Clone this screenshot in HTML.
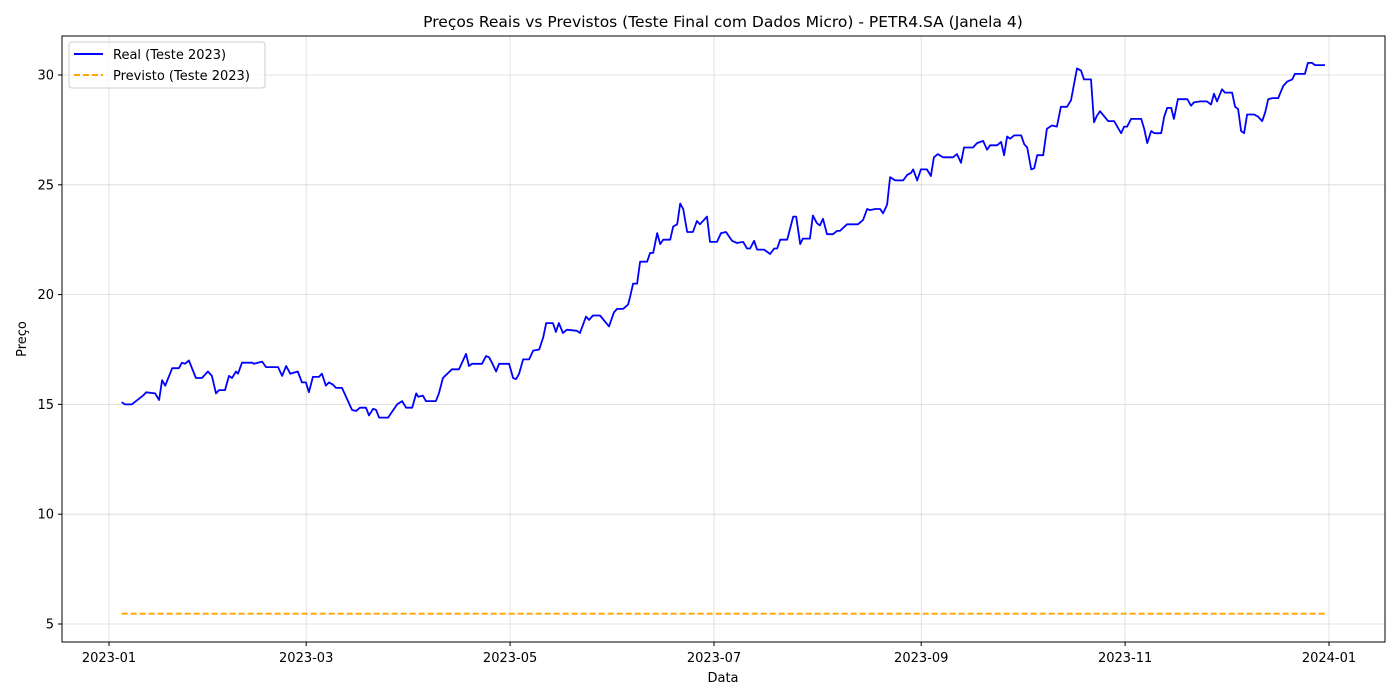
<!DOCTYPE html>
<html><head><meta charset="utf-8"><style>
body{margin:0;background:#fff;}
svg{display:block;font-family:"DejaVu Sans","Liberation Sans",sans-serif;}
</style></head><body>
<svg id="chart" width="1400" height="700" viewBox="0 0 1400 700" xmlns="http://www.w3.org/2000/svg">
<rect width="1400" height="700" fill="#fff"/>
<text x="723" y="27" font-size="15.5" text-anchor="middle" fill="#000">Preços Reais vs Previstos (Teste Final com Dados Micro) - PETR4.SA (Janela 4)</text>
<g id="grid"></g>
<g id="series"></g>
<rect x="62" y="36" width="1323" height="606" fill="none" stroke="#000" stroke-width="1"/>
<g id="ticks"></g>
<text x="723" y="682" font-size="13" text-anchor="middle">Data</text>
<text transform="translate(26,339) rotate(-90)" font-size="13" text-anchor="middle">Preço</text>
<g>
<rect x="69" y="42" width="196" height="46" rx="3" fill="#fff" fill-opacity="0.8" stroke="#ccc"/>
<line x1="74" y1="54" x2="103" y2="54" stroke="#0000ff" stroke-width="2"/>
<text x="113" y="59" font-size="13">Real (Teste 2023)</text>
<line x1="74" y1="75" x2="103" y2="75" stroke="#ffa500" stroke-width="2" stroke-dasharray="6,3"/>
<text x="113" y="80" font-size="13">Previsto (Teste 2023)</text>
</g>
</svg>
<script>
const realDays=[3.8,4.8,6.8,10.2,11.1,13.8,15.0,15.9,16.8,18.9,20.9,21.8,22.7,23.9,26.0,27.8,29.6,30.8,32.0,32.9,34.7,35.9,36.8,38.0,38.6,39.8,42.8,43.4,45.8,47.0,50.6,51.8,53.0,54.2,56.5,57.7,58.9,59.8,61.0,62.8,63.7,64.9,65.8,67.0,67.9,69.7,71.2,72.7,73.9,75.1,76.9,77.8,79.0,79.9,80.8,83.5,86.2,87.7,88.9,90.7,91.9,92.5,93.9,94.8,97.8,98.7,99.9,102.6,104.7,105.6,106.8,107.7,108.6,111.6,112.8,113.7,114.6,115.8,116.7,119.7,120.9,121.8,122.7,123.9,125.7,126.9,128.7,129.9,130.8,132.8,133.7,134.6,135.8,137.0,140.0,140.9,142.7,143.6,144.8,146.9,149.6,151.1,152.0,153.8,155.3,155.9,156.8,158.0,158.9,161.0,161.9,162.8,164.0,164.9,165.8,167.9,168.8,170.0,170.9,171.8,173.0,174.7,175.9,176.8,178.9,179.8,181.9,183.1,184.6,186.4,187.9,189.7,190.9,191.8,193.0,193.9,196.0,197.8,199.0,199.9,200.8,202.9,204.7,205.6,206.8,207.6,209.7,210.6,211.8,212.7,213.6,214.8,216.6,217.8,218.7,220.8,224.1,225.6,226.8,227.7,229.2,230.7,231.6,232.8,233.7,235.2,237.6,238.8,240.0,240.6,241.8,242.9,244.7,245.9,246.8,248.0,249.5,252.5,253.7,254.9,255.8,258.5,259.7,261.5,262.7,263.6,265.7,266.9,267.8,268.7,269.6,270.8,272.9,273.8,274.7,275.9,276.8,277.7,279.5,280.6,282.1,283.6,284.8,286.6,287.8,289.6,290.8,291.7,293.8,294.7,295.6,296.5,298.9,300.7,302.8,303.7,304.6,305.8,308.8,309.7,310.6,311.8,312.7,314.8,315.7,316.6,317.8,318.6,319.8,322.6,323.7,324.6,326.4,328.5,329.7,330.6,331.5,333.0,333.9,336.0,336.9,337.8,338.7,339.6,340.5,342.6,343.8,345.0,345.9,346.8,348.0,349.8,351.3,352.5,354.0,354.8,357.8,358.7,359.9,360.8,363.8];
const realPrices=[15.1,15.0,15.0,15.4,15.55,15.5,15.2,16.1,15.85,16.65,16.65,16.9,16.85,17.0,16.2,16.2,16.5,16.3,15.5,15.65,15.65,16.3,16.2,16.5,16.4,16.9,16.9,16.85,16.95,16.7,16.7,16.3,16.75,16.4,16.5,16.0,16.0,15.55,16.25,16.25,16.4,15.85,16.0,15.9,15.75,15.75,15.25,14.75,14.7,14.85,14.85,14.5,14.8,14.75,14.4,14.4,15.0,15.15,14.85,14.85,15.5,15.35,15.4,15.15,15.15,15.5,16.2,16.6,16.6,16.9,17.3,16.75,16.85,16.85,17.2,17.15,16.9,16.5,16.85,16.85,16.2,16.15,16.4,17.05,17.05,17.45,17.5,18.05,18.7,18.7,18.3,18.7,18.25,18.4,18.35,18.25,19.0,18.85,19.05,19.05,18.55,19.2,19.35,19.35,19.55,19.9,20.5,20.5,21.5,21.5,21.9,21.9,22.8,22.3,22.5,22.5,23.1,23.2,24.15,23.9,22.85,22.85,23.35,23.2,23.55,22.4,22.4,22.8,22.85,22.45,22.35,22.4,22.1,22.1,22.45,22.05,22.05,21.85,22.1,22.1,22.5,22.5,23.55,23.55,22.3,22.55,22.55,23.6,23.25,23.15,23.45,22.75,22.75,22.9,22.9,23.2,23.2,23.4,23.9,23.85,23.9,23.9,23.7,24.1,25.35,25.2,25.2,25.45,25.55,25.7,25.2,25.7,25.7,25.4,26.25,26.4,26.25,26.25,26.4,26.0,26.7,26.7,26.9,27.0,26.6,26.8,26.8,26.95,26.35,27.2,27.1,27.25,27.25,26.85,26.7,25.7,25.75,26.35,26.35,27.55,27.7,27.65,28.55,28.55,28.85,30.3,30.2,29.8,29.8,27.85,28.15,28.35,27.9,27.9,27.35,27.65,27.65,28.0,28.0,27.55,26.9,27.45,27.35,27.35,28.1,28.5,28.5,28.0,28.9,28.9,28.6,28.75,28.8,28.8,28.65,29.15,28.8,29.35,29.2,29.2,28.55,28.45,27.45,27.35,28.2,28.2,28.1,27.9,28.3,28.9,28.95,28.95,29.5,29.7,29.8,30.05,30.05,30.55,30.55,30.45,30.45];
const predDays=[3.8,363.8];
const predPrices=[5.47,5.47];
const xTickDays=[0,59,120,181,243,304,365];
const xTickLabels=["2023-01","2023-03","2023-05","2023-07","2023-09","2023-11","2024-01"];
const yTicks=[5,10,15,20,25,30];

const NS="http://www.w3.org/2000/svg";
const X0=62,X1=1385,Y0=36,Y1=642;
function xs(d){return 109+d*(1220/365);}
function ys(v){return 624-(v-5)*(549/25);}
function mk(tag,attrs,parent){const e=document.createElementNS(NS,tag);for(const k in attrs)e.setAttribute(k,attrs[k]);parent.appendChild(e);return e;}
const grid=document.getElementById('grid'),ticks=document.getElementById('ticks'),series=document.getElementById('series');
xTickDays.forEach((d,i)=>{
  const x=xs(d);
  const g=mk('line',{x1:x,x2:x,y1:Y0,y2:Y1,stroke:'#d9d9d9','stroke-width':0.8},grid);
  
  
  mk('line',{x1:x,x2:x,y1:Y1,y2:Y1+4,stroke:'#000'},ticks);
  const t=mk('text',{x:x,y:Y1+20,'font-size':13,'text-anchor':'middle'},ticks);
  t.textContent=xTickLabels[i];
  
  
});
yTicks.forEach(v=>{
  const y=ys(v);
  const g=mk('line',{x1:X0,x2:X1,y1:y,y2:y,stroke:'#d9d9d9','stroke-width':0.8},grid);
  
  
  mk('line',{x1:X0-4,x2:X0,y1:y,y2:y,stroke:'#000'},ticks);
  const t=mk('text',{x:X0-8,y:y+4.5,'font-size':13,'text-anchor':'end'},ticks);
  t.textContent=String(v);
  
  
});
const rp=mk('polyline',{points:realDays.map((d,i)=>xs(d).toFixed(1)+','+ys(realPrices[i]).toFixed(1)).join(' '),fill:'none',stroke:'#0000ff','stroke-width':1.8,'stroke-linejoin':'round'},series);


const pp=mk('polyline',{points:predDays.map((d,i)=>xs(d).toFixed(1)+','+ys(predPrices[i]).toFixed(1)).join(' '),fill:'none',stroke:'#ffa500','stroke-width':1.8,'stroke-dasharray':'6,3'},series);


</script>
</body></html>
